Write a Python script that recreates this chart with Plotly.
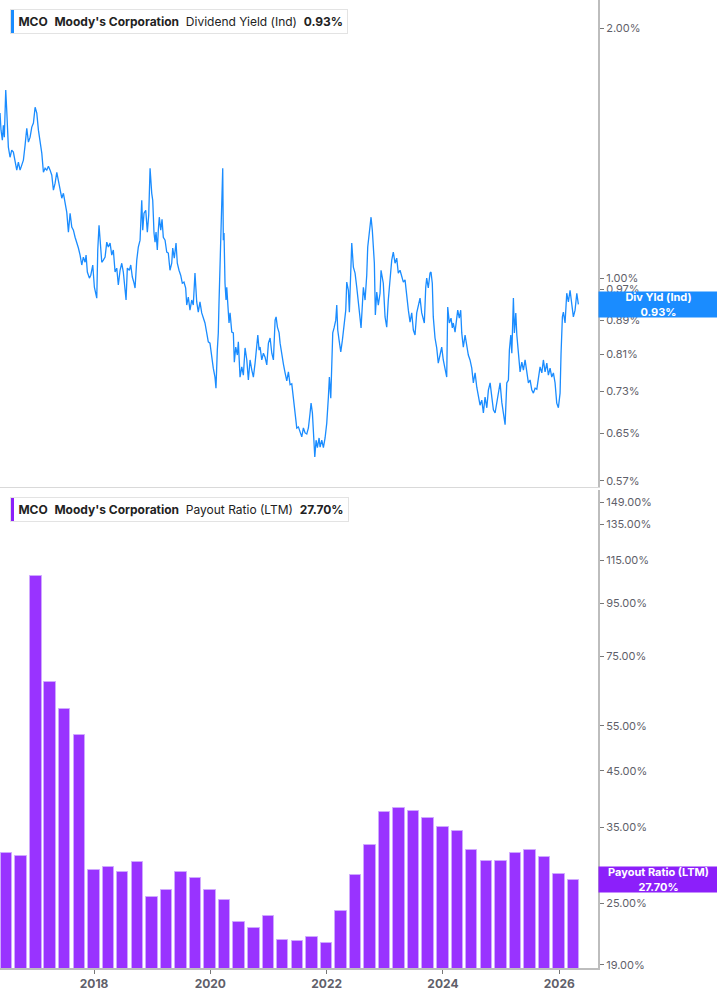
import numpy as np
import pandas as pd
import plotly.graph_objects as go
from plotly.subplots import make_subplots

# Dividend yield (indicated), in %. Dates are decimal years.
yield_years = [
    2016.383, 2016.400, 2016.423, 2016.440, 2016.457, 2016.481, 2016.498, 2016.509, 2016.526, 2016.555,
    2016.584, 2016.612, 2016.641, 2016.670, 2016.698, 2016.727, 2016.756, 2016.784, 2016.813, 2016.842,
    2016.870, 2016.899, 2016.928, 2016.956, 2016.985, 2017.014, 2017.042, 2017.071, 2017.100, 2017.128,
    2017.157, 2017.186, 2017.214, 2017.243, 2017.272, 2017.300, 2017.329, 2017.358, 2017.386, 2017.415,
    2017.444, 2017.472, 2017.501, 2017.530, 2017.558, 2017.587, 2017.616, 2017.644, 2017.673, 2017.702,
    2017.730, 2017.759, 2017.788, 2017.815, 2017.845, 2017.862, 2017.884, 2017.919, 2017.943, 2017.977,
    2018.005, 2018.046, 2018.063, 2018.085, 2018.103, 2018.132, 2018.159, 2018.189, 2018.218, 2018.245,
    2018.275, 2018.304, 2018.331, 2018.361, 2018.390, 2018.417, 2018.447, 2018.476, 2018.503, 2018.533,
    2018.550, 2018.572, 2018.607, 2018.631, 2018.658, 2018.687, 2018.705, 2018.734, 2018.761, 2018.791,
    2018.820, 2018.837, 2018.859, 2018.889, 2018.916, 2018.940, 2018.963, 2018.992, 2019.009, 2019.031,
    2019.049, 2019.066, 2019.088, 2019.105, 2019.122, 2019.147, 2019.169, 2019.191, 2019.221, 2019.250,
    2019.277, 2019.306, 2019.336, 2019.353, 2019.380, 2019.410, 2019.432, 2019.461, 2019.490, 2019.518,
    2019.547, 2019.576, 2019.594, 2019.621, 2019.650, 2019.680, 2019.707, 2019.736, 2019.766, 2019.793,
    2019.822, 2019.852, 2019.879, 2019.908, 2019.938, 2019.965, 2019.994, 2020.024, 2020.051, 2020.080,
    2020.097, 2020.120, 2020.137, 2020.149, 2020.166, 2020.178, 2020.195, 2020.213, 2020.223, 2020.235,
    2020.252, 2020.270, 2020.282, 2020.299, 2020.321, 2020.339, 2020.368, 2020.395, 2020.412, 2020.436,
    2020.464, 2020.481, 2020.510, 2020.540, 2020.567, 2020.596, 2020.626, 2020.653, 2020.682, 2020.712,
    2020.739, 2020.768, 2020.797, 2020.815, 2020.837, 2020.854, 2020.883, 2020.911, 2020.940, 2020.969,
    2020.997, 2021.026, 2021.055, 2021.083, 2021.112, 2021.129, 2021.152, 2021.181, 2021.198, 2021.227,
    2021.255, 2021.284, 2021.313, 2021.341, 2021.370, 2021.399, 2021.427, 2021.456, 2021.485, 2021.513,
    2021.542, 2021.571, 2021.599, 2021.628, 2021.657, 2021.685, 2021.714, 2021.731, 2021.754, 2021.771,
    2021.795, 2021.817, 2021.840, 2021.869, 2021.886, 2021.915, 2021.943, 2021.972, 2022.001, 2022.029,
    2022.046, 2022.070, 2022.087, 2022.104, 2022.127, 2022.156, 2022.173, 2022.190, 2022.213, 2022.242,
    2022.270, 2022.299, 2022.328, 2022.345, 2022.373, 2022.390, 2022.414, 2022.431, 2022.459, 2022.488,
    2022.517, 2022.545, 2022.574, 2022.591, 2022.613, 2022.631, 2022.660, 2022.689, 2022.706, 2022.729,
    2022.746, 2022.763, 2022.785, 2022.802, 2022.820, 2022.837, 2022.861, 2022.888, 2022.918, 2022.935,
    2022.957, 2022.974, 2023.004, 2023.033, 2023.060, 2023.090, 2023.119, 2023.146, 2023.176, 2023.205,
    2023.232, 2023.262, 2023.291, 2023.319, 2023.348, 2023.377, 2023.405, 2023.434, 2023.463, 2023.491,
    2023.520, 2023.549, 2023.577, 2023.606, 2023.635, 2023.662, 2023.680, 2023.704, 2023.721, 2023.748,
    2023.778, 2023.795, 2023.817, 2023.834, 2023.864, 2023.893, 2023.920, 2023.950, 2023.979, 2024.006,
    2024.036, 2024.065, 2024.082, 2024.110, 2024.139, 2024.161, 2024.178, 2024.208, 2024.237, 2024.254,
    2024.281, 2024.305, 2024.323, 2024.350, 2024.380, 2024.409, 2024.436, 2024.465, 2024.495, 2024.522,
    2024.552, 2024.581, 2024.608, 2024.637, 2024.667, 2024.694, 2024.723, 2024.753, 2024.780, 2024.810,
    2024.839, 2024.866, 2024.895, 2024.925, 2024.952, 2024.981, 2025.010, 2025.038, 2025.067, 2025.096,
    2025.124, 2025.141, 2025.165, 2025.183, 2025.210, 2025.227, 2025.251, 2025.269, 2025.296, 2025.325,
    2025.355, 2025.382, 2025.411, 2025.441, 2025.468, 2025.497, 2025.527, 2025.554, 2025.583, 2025.613,
    2025.640, 2025.669, 2025.699, 2025.726, 2025.755, 2025.785, 2025.812, 2025.841, 2025.870, 2025.898,
    2025.927, 2025.956, 2025.984, 2026.013, 2026.030, 2026.053, 2026.070, 2026.099, 2026.128, 2026.156,
    2026.185, 2026.214, 2026.242, 2026.271, 2026.301, 2026.328,
]
yield_pct = [
    1.580, 1.507, 1.466, 1.528, 1.478, 1.684, 1.593, 1.507, 1.438, 1.398,
    1.426, 1.418, 1.387, 1.349, 1.379, 1.349, 1.368, 1.387, 1.446, 1.515,
    1.458, 1.478, 1.520, 1.537, 1.606, 1.580, 1.507, 1.458, 1.414, 1.341,
    1.356, 1.349, 1.364, 1.349, 1.330, 1.276, 1.301, 1.341, 1.312, 1.276,
    1.248, 1.265, 1.231, 1.200, 1.136, 1.197, 1.152, 1.142, 1.120, 1.105,
    1.087, 1.066, 1.037, 1.060, 1.045, 1.066, 1.017, 1.000, 1.008, 1.037,
    0.975, 0.946, 1.081, 1.158, 1.102, 1.045, 1.051, 1.060, 1.105, 1.090,
    1.102, 1.066, 1.081, 1.017, 1.028, 0.981, 1.022, 1.042, 1.017, 0.967,
    0.941, 1.028, 1.022, 1.037, 1.003, 0.986, 0.973, 1.051, 1.090, 1.111,
    1.241, 1.142, 1.197, 1.207, 1.136, 1.191, 1.356, 1.265, 1.241, 1.133,
    1.105, 1.136, 1.081, 1.142, 1.184, 1.142, 1.177, 1.120, 1.111, 1.075,
    1.072, 1.022, 1.042, 1.087, 1.057, 1.102, 1.042, 1.022, 1.008, 0.986,
    0.989, 0.973, 0.928, 0.949, 0.915, 0.941, 0.928, 1.014, 0.936, 0.910,
    0.936, 0.908, 0.895, 0.883, 0.859, 0.838, 0.835, 0.797, 0.779, 0.760,
    0.737, 0.819, 0.859, 0.933, 1.051, 1.152, 1.276, 1.356, 1.111, 1.133,
    0.986, 0.941, 0.975, 0.923, 0.883, 0.908, 0.861, 0.859, 0.792, 0.826,
    0.808, 0.838, 0.760, 0.782, 0.764, 0.824, 0.797, 0.754, 0.797, 0.775,
    0.760, 0.790, 0.826, 0.854, 0.819, 0.826, 0.797, 0.812, 0.803, 0.786,
    0.835, 0.847, 0.812, 0.797, 0.890, 0.898, 0.873, 0.859, 0.835, 0.808,
    0.788, 0.769, 0.752, 0.771, 0.744, 0.746, 0.719, 0.694, 0.660, 0.662,
    0.651, 0.644, 0.660, 0.651, 0.649, 0.660, 0.688, 0.707, 0.688, 0.656,
    0.609, 0.638, 0.625, 0.642, 0.626, 0.638, 0.625, 0.642, 0.669, 0.719,
    0.760, 0.717, 0.769, 0.859, 0.871, 0.890, 0.928, 0.866, 0.842, 0.815,
    0.842, 0.883, 0.915, 0.989, 0.967, 0.910, 1.022, 1.102, 1.031, 1.014,
    0.975, 0.941, 0.895, 0.871, 0.920, 0.975, 0.941, 1.008, 1.090, 1.136,
    1.174, 1.184, 1.142, 1.081, 1.042, 0.903, 0.962, 0.928, 0.959, 1.022,
    1.003, 0.986, 0.898, 0.873, 0.941, 1.003, 1.051, 1.075, 1.042, 1.057,
    1.014, 1.022, 1.003, 0.989, 0.995, 0.949, 0.915, 0.885, 0.908, 0.866,
    0.854, 0.908, 0.923, 0.946, 0.908, 0.895, 0.883, 0.975, 1.000, 0.973,
    1.014, 1.017, 0.986, 0.898, 0.847, 0.824, 0.790, 0.808, 0.826, 0.797,
    0.779, 0.760, 0.923, 0.883, 0.895, 0.871, 0.883, 0.861, 0.895, 0.915,
    0.895, 0.915, 0.859, 0.826, 0.854, 0.826, 0.808, 0.797, 0.779, 0.748,
    0.769, 0.739, 0.719, 0.703, 0.713, 0.688, 0.719, 0.698, 0.733, 0.748,
    0.719, 0.694, 0.688, 0.707, 0.729, 0.748, 0.709, 0.688, 0.666, 0.748,
    0.754, 0.819, 0.854, 0.812, 0.946, 0.859, 0.908, 0.854, 0.812, 0.771,
    0.792, 0.775, 0.797, 0.769, 0.748, 0.754, 0.733, 0.727, 0.737, 0.735,
    0.754, 0.782, 0.769, 0.797, 0.771, 0.790, 0.764, 0.779, 0.760, 0.769,
    0.748, 0.707, 0.698, 0.727, 0.812, 0.898, 0.910, 0.883, 0.959, 0.936,
    0.967, 0.923, 0.898, 0.915, 0.959, 0.930,
]

# Payout ratio (LTM), in %, one bar per quarter end
payout_dates = [
    "2016-06-30", "2016-09-30", "2016-12-31",
    "2017-03-31", "2017-06-30", "2017-09-30", "2017-12-31",
    "2018-03-31", "2018-06-30", "2018-09-30", "2018-12-31",
    "2019-03-31", "2019-06-30", "2019-09-30", "2019-12-31",
    "2020-03-31", "2020-06-30", "2020-09-30", "2020-12-31",
    "2021-03-31", "2021-06-30", "2021-09-30", "2021-12-31",
    "2022-03-31", "2022-06-30", "2022-09-30", "2022-12-31",
    "2023-03-31", "2023-06-30", "2023-09-30", "2023-12-31",
    "2024-03-31", "2024-06-30", "2024-09-30", "2024-12-31",
    "2025-03-31", "2025-06-30", "2025-09-30", "2025-12-31",
    "2026-03-31",
]
payout_pct = [
    31.3, 30.8, 107.3,
    66.8, 59.2, 52.8, 29.0,
    29.3, 28.7, 30.0, 25.7,
    26.5, 28.7, 28.0, 26.5,
    25.3, 23.0, 22.4, 23.6,
    21.2, 21.1, 21.5, 20.9,
    24.1, 28.3, 32.3, 37.5,
    38.2, 37.7, 36.5, 35.1,
    34.4, 31.7, 30.2, 30.1,
    31.3, 31.7, 30.7, 28.5,
    27.7,
]

yield_ticks = [0.57, 0.65, 0.73, 0.81, 0.89, 0.97, 1.00, 2.00]
payout_ticks = [19, 25, 35, 45, 55, 75, 95, 115, 135, 149]
year_ticks = ["2018-01-01", "2020-01-01", "2022-01-01", "2024-01-01", "2026-01-01"]
year_labels = ["2018", "2020", "2022", "2024", "2026"]

BLUE = "#1a8cff"
PURPLE = "#9933ff"
PURPLE_DARK = "#8c1ffa"
FONT = "Inter"


def year_to_ts(y):
    yr = int(y)
    start = pd.Timestamp(yr, 1, 1)
    return start + (pd.Timestamp(yr + 1, 1, 1) - start) * (y - yr)


yield_dates = [year_to_ts(y) for y in yield_years]

fig = make_subplots(rows=2, cols=1, shared_xaxes=True, vertical_spacing=0.003)

fig.add_trace(go.Scatter(
    x=yield_dates, y=yield_pct, mode="lines",
    line=dict(color=BLUE, width=1.3), showlegend=False,
), row=1, col=1)

fig.add_trace(go.Bar(
    x=payout_dates, y=payout_pct,
    marker=dict(color=PURPLE, line=dict(color="#cfa8ff", width=1)),
    width=72 * 24 * 3600 * 1000, showlegend=False,
), row=2, col=1)

W, H = 717, 1005
ML, MR, MT, MB = 0, 119, 0, 37
plot_w = W - ML - MR
plot_h = H - MT - MB


def px_x(px):
    return px / plot_w


def px_y(py):
    return (plot_h - py) / plot_h


fig.update_layout(
    width=W, height=H,
    margin=dict(l=ML, r=MR, t=MT, b=MB),
    paper_bgcolor="white", plot_bgcolor="white",
    font=dict(family=FONT, size=11, color="#555"),
    bargap=0,
)

fig.update_yaxes(row=1, col=1, domain=[px_y(487), 1.0])
fig.update_yaxes(row=2, col=1, domain=[0.0, px_y(490)])

axis_common = dict(
    side="right", showgrid=False, zeroline=False, type="log",
    showline=True, linecolor="#bdbdbd", linewidth=2,
    ticks="outside", ticklen=4, tickcolor="#777", tickwidth=1,
    tickfont=dict(family=FONT, size=11, color="#5f5f6a"),
)
fig.update_yaxes(
    row=1, col=1, **axis_common,
    range=[np.log10(0.5604), np.log10(2.162)],
    tickvals=yield_ticks, ticktext=[f"{v:.2f}%" for v in yield_ticks],
)
fig.update_yaxes(
    row=2, col=1, **axis_common,
    range=[np.log10(18.72), np.log10(157.2)],
    tickvals=payout_ticks, ticktext=[f"{v:.2f}%" for v in payout_ticks],
)

fig.update_xaxes(
    type="date", range=["2016-05-20", "2026-09-01"],
    showgrid=False, zeroline=False,
)
fig.update_xaxes(row=1, col=1, showline=True, linecolor="#d9d9d9", linewidth=1,
                 showticklabels=False, ticks="")
fig.update_xaxes(
    row=2, col=1, showline=True, linecolor="#bdbdbd", linewidth=2,
    ticks="outside", ticklen=4, tickcolor="#777",
    tickvals=year_ticks, ticktext=year_labels,
    tickfont=dict(family=FONT, size=12, color="#5f5f6a", weight="bold"),
)

# legend boxes top-left of each panel
sp = "&nbsp;&nbsp;"
legends = [
    (9, 33, BLUE, f"&nbsp;<b>MCO</b>{sp}<b>Moody's Corporation</b>{sp}Dividend Yield (Ind){sp}<b>0.93%</b>"),
    (497, 521, PURPLE_DARK, f"&nbsp;<b>MCO</b>{sp}<b>Moody's Corporation</b>{sp}Payout Ratio (LTM){sp}<b>27.70%</b>"),
]
for top, bottom, color, text in legends:
    fig.add_annotation(
        xref="paper", yref="paper", x=px_x(10), y=px_y(top),
        xanchor="left", yanchor="top", showarrow=False, align="left",
        text=text, font=dict(family=FONT, size=12, color="#222"),
        bgcolor="rgba(0,0,0,0)", bordercolor="#e3e3e3", borderwidth=1, borderpad=4,
    )
    fig.add_shape(
        type="rect", xref="paper", yref="paper",
        x0=px_x(10), x1=px_x(14), y0=px_y(bottom), y1=px_y(top + 1),
        fillcolor=color, line=dict(width=0),
    )

# last value badges on the right axis
badges = [
    ("y", yield_pct[-1], BLUE, "Div Yld (Ind)", f"{yield_pct[-1]:.2f}%"),
    ("y2", payout_pct[-1], PURPLE_DARK, "Payout Ratio (LTM)", f"{payout_pct[-1]:.2f}%"),
]
for yref, val, color, name, label in badges:
    fig.add_annotation(
        xref="paper", yref=yref, x=1.0, y=np.log10(val),
        xanchor="left", yanchor="middle", showarrow=False, align="center",
        text=f"<b>{name}</b><br><b>{label}</b>",
        font=dict(family=FONT, size=11, color="white"),
        bgcolor=color, borderpad=0, width=119, height=25,
    )

# page body has an 8px default margin; drop it so the figure sits at the window corner
fig.write_html("out.html", config={"displayModeBar": False},
               post_script="document.body.style.margin = '0';")
